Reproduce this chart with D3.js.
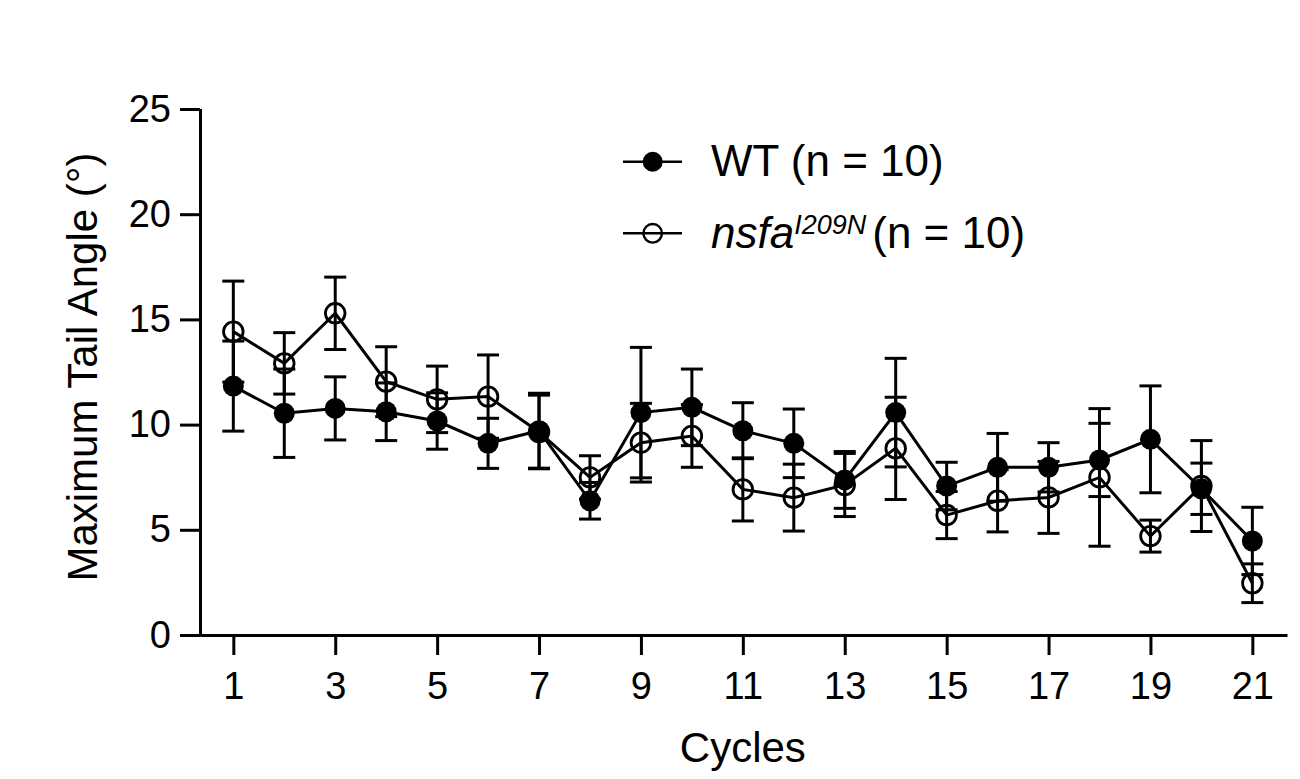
<!DOCTYPE html>
<html>
<head>
<meta charset="utf-8">
<script src="https://cdn.jsdelivr.net/npm/d3@7"></script>
<style>
  body { margin: 0; background: #fff; }
  text { font-family: "Liberation Sans", Arial, sans-serif; fill: #000; }
</style>
</head>
<body>
<div id="main"></div>
<script>
// cycles on the x axis
const cycles = [1, 2, 3, 4, 5, 6, 7, 8, 9, 10, 11, 12, 13, 14, 15, 16, 17, 18, 19, 20, 21];

// WT (n = 10): mean and SEM
const wtMean = [11.83, 10.54, 10.77, 10.61, 10.17, 9.11, 9.71, 6.38, 10.57, 10.82, 9.71, 9.11, 7.37, 10.57, 7.08, 7.97, 7.97, 8.32, 9.30, 6.95, 4.47];
const wtSem  = [2.14, 2.10, 1.50, 1.37, 1.34, 1.19, 1.78, 0.87, 3.10, 1.82, 1.33, 1.63, 1.35, 2.58, 1.13, 1.61, 1.17, 1.74, 2.54, 1.22, 1.60];

// nsfa I209N (n = 10)
const mutMean = [14.42, 12.91, 15.29, 12.04, 11.20, 11.33, 9.65, 7.49, 9.14, 9.46, 6.92, 6.53, 7.13, 8.87, 5.70, 6.38, 6.54, 7.49, 4.70, 7.08, 2.46];
const mutSem  = [2.40, 1.46, 1.72, 1.66, 1.58, 1.98, 1.75, 1.03, 1.87, 1.49, 1.50, 1.59, 1.50, 2.43, 1.12, 1.48, 1.71, 3.27, 0.76, 2.16, 0.92];

const xTicks = [1, 3, 5, 7, 9, 11, 13, 15, 17, 19, 21];
const yTicks = [0, 5, 10, 15, 20, 25];

const width = 1300, height = 779;

const svg = d3.select('#main').append('svg').attr('width', width).attr('height', height);

const x = d3.scaleLinear().domain([0.346, 21.68]).range([200, 1287]);
const y = d3.scaleLinear().domain([0, 25]).range([635, 109]);

// axes
const xAxis = svg.append('g').attr('transform', 'translate(0,635)')
  .call(d3.axisBottom(x).tickValues(xTicks).tickSize(20).tickSizeOuter(0).tickPadding(17));
const yAxis = svg.append('g').attr('transform', 'translate(200,0)')
  .call(d3.axisLeft(y).tickValues(yTicks).tickSize(20).tickSizeOuter(0).tickPadding(9));

[xAxis, yAxis].forEach(function (g) {
  g.selectAll('path, line').attr('stroke', '#000').attr('stroke-width', 3);
  g.selectAll('text').attr('font-size', 38).attr('font-family', '"Liberation Sans", Arial, sans-serif').attr('fill', '#000');
});
yAxis.select('.domain').attr('d', 'M0.5,' + y(25) + 'V' + (y(0) + 1.5));

// axis titles
svg.append('text').attr('x', x(11)).attr('y', 762).attr('text-anchor', 'middle')
  .attr('font-size', 42).text('Cycles');
svg.append('text').attr('transform', 'translate(97,' + 367 + ') rotate(-90)')
  .attr('text-anchor', 'middle').attr('font-size', 42).text('Maximum Tail Angle (°)');

function series(mean, sem, filled) {
  const pts = cycles.map((c, i) => ({ c: c, m: mean[i], s: sem[i] }));
  const g = svg.append('g');

  // error bars
  const eb = g.selectAll('g.eb').data(pts).enter().append('g').attr('class', 'eb');
  eb.append('line').attr('x1', d => x(d.c)).attr('x2', d => x(d.c))
    .attr('y1', d => y(d.m + d.s)).attr('y2', d => y(d.m - d.s));
  eb.append('line').attr('x1', d => x(d.c) - 11).attr('x2', d => x(d.c) + 11)
    .attr('y1', d => y(d.m + d.s)).attr('y2', d => y(d.m + d.s));
  eb.append('line').attr('x1', d => x(d.c) - 11).attr('x2', d => x(d.c) + 11)
    .attr('y1', d => y(d.m - d.s)).attr('y2', d => y(d.m - d.s));
  eb.selectAll('line').attr('stroke', '#000').attr('stroke-width', 3);

  // connecting line
  g.append('path').datum(pts)
    .attr('d', d3.line().x(d => x(d.c)).y(d => y(d.m)))
    .attr('fill', 'none').attr('stroke', '#000').attr('stroke-width', 3);

  // markers
  g.selectAll('circle').data(pts).enter().append('circle')
    .attr('cx', d => x(d.c)).attr('cy', d => y(d.m))
    .attr('r', filled ? 10.5 : 9.8)
    .attr('fill', filled ? '#000' : 'none')
    .attr('stroke', '#000').attr('stroke-width', filled ? 0 : 2.8);
}

series(mutMean, mutSem, false);
series(wtMean, wtSem, true);

// legend
const legend = svg.append('g');
const rows = [161.7, 233.3];
rows.forEach(function (ly, i) {
  legend.append('line').attr('x1', 623).attr('x2', 682).attr('y1', ly).attr('y2', ly)
    .attr('stroke', '#000').attr('stroke-width', 2.5);
  legend.append('circle').attr('cx', 652.7).attr('cy', ly).attr('r', i === 0 ? 10 : 9.3)
    .attr('fill', i === 0 ? '#000' : 'none').attr('stroke', '#000').attr('stroke-width', i === 0 ? 0 : 2.4);
});
legend.append('text').attr('x', 711).attr('y', 176).attr('font-size', 44).text('WT (n = 10)');

const t2 = legend.append('text').attr('x', 711).attr('y', 248).attr('font-size', 44);
t2.append('tspan').attr('font-style', 'italic').text('nsfa');
t2.append('tspan').attr('font-style', 'italic').attr('font-size', 27).attr('dy', -14).text('I209N');
t2.append('tspan').attr('dy', 14).attr('dx', 6).text('(n = 10)');
</script>
</body>
</html>
